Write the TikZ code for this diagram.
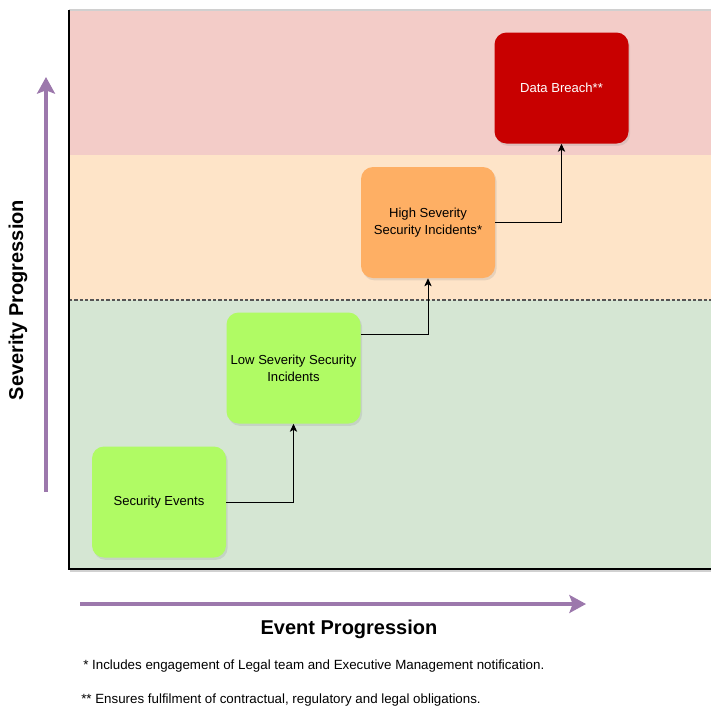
\documentclass[tikz,border=0pt]{standalone}
\usepackage{fontspec}
\setmainfont{Liberation Sans}
\usepackage{xcolor}
\usetikzlibrary{arrows.meta,positioning,shadows}
\definecolor{ink}      {HTML}{000000}
\definecolor{dashgray} {HTML}{555555}
\definecolor{framegray}{HTML}{D0D0D0}
\definecolor{axispurp} {HTML}{9C78AC}
\definecolor{redband}  {HTML}{F3CCC8}
\definecolor{orgband}  {HTML}{FEE4C8}
\definecolor{grnband}  {HTML}{D5E6D3}
\definecolor{grnbox}   {HTML}{B0FB64}
\definecolor{orgbox}   {HTML}{FEAF64}
\definecolor{redbox}   {HTML}{C80000}
\tikzset{
  box/.style      ={draw=none, rounded corners=9pt,
                    minimum width=100.5pt, minimum height=83.25pt,
                    align=center, inner sep=1pt,
                    font=\fontsize{9.8}{12.8}\selectfont,
                    drop shadow={shadow xshift=1.2pt, shadow yshift=-1.8pt,
                                 opacity=0.18}},
  lowbox/.style   ={box, fill=grnbox},
  highbox/.style  ={box, fill=orgbox},
  breachbox/.style={box, fill=redbox, text=white},
  arr/.style      ={-{Stealth[length=6pt,width=5.5pt,inset=1.5pt]},
                    line width=0.75pt, draw=ink},
  axis/.style     ={-{Stealth[length=12.5pt,width=13.5pt,inset=2.5pt]},
                    line width=2.3pt, draw=axispurp},
  axlabel/.style  ={font=\fontsize{15}{18}\selectfont\bfseries, inner sep=0pt},
  note/.style     ={font=\fontsize{10}{12}\selectfont, color=ink, anchor=west,
                    inner sep=0pt},
}

\begin{document}
\begin{tikzpicture}[x=0.75pt,y=-0.75pt]
  \useasboundingbox (0,0) rectangle (711,708);

  % severity bands
  \fill[redband] (69,10)  rectangle (712,155);
  \fill[orgband] (69,155) rectangle (712,300);
  \fill[grnband] (69,300) rectangle (712,569);
  \draw[dashgray, line width=0.8pt, dash pattern=on 2.5pt off 1.5pt]
    (69,300) -- (712,300);
  \draw[framegray, line width=0.8pt] (69,10) -- (712,10);
  \draw[black!18, line width=2pt] (70,571) -- (712,571);
  \draw[ink, line width=1pt] (69,10) |- (712,569);

  % incident boxes
  \node[lowbox]    (events) at (159,502)   {Security Events};
  \node[lowbox]    (low)    at (293.5,368) {Low Severity Security\\Incidents};
  \node[highbox]   (high)   at (428,222.5) {High Severity\\Security Incidents*};
  \node[breachbox] (breach) at (561.5,88)  {Data Breach**};

  \draw[arr] (events.east) -| (low.south);
  \draw[arr] ([yshift=-16.5pt]low.north east) -| (high.south);
  \draw[arr] (high.east) -| (breach.south);

  % axes
  \coordinate (sevlo) at (46,492);
  \coordinate (sevhi) at (46,77);
  \coordinate (evlo)  at (80,604);
  \coordinate (evhi)  at (586,604);
  \draw[axis] (sevlo) -- (sevhi);
  \draw[axis] (evlo) -- (evhi);
  \node[axlabel, rotate=90] (sevlabel) at (18,300) {Severity Progression};
  \node[axlabel]            (evlabel)  at (349,629) {Event Progression};

  % footnotes
  \node[note] (fnone) at (83,666)
    {* Includes engagement of Legal team and Executive Management notification.};
  \node[note] (fntwo) at (81,700)
    {** Ensures fulfilment of contractual, regulatory and legal obligations.};
\end{tikzpicture}
\end{document}
